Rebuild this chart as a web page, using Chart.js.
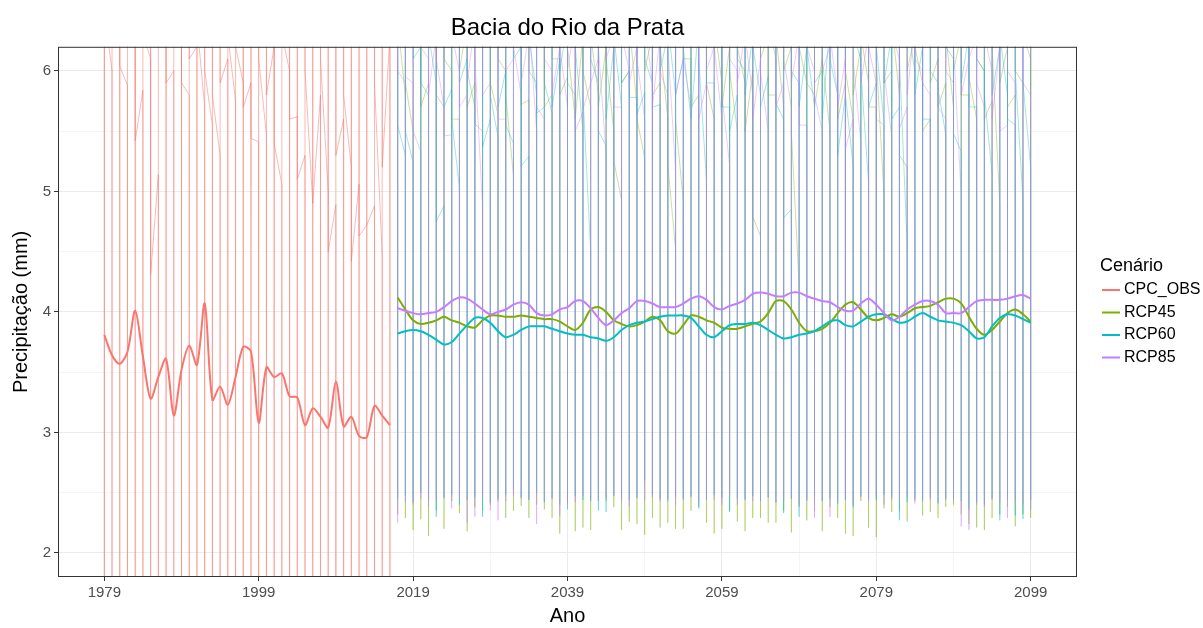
<!DOCTYPE html>
<html>
<head>
<meta charset="utf-8">
<script src="https://cdn.jsdelivr.net/npm/chart.js@4.4.0/dist/chart.umd.min.js"></script>
<style>
  html, body { margin: 0; background: #fff; }
  #chart { display: block; }
</style>
</head>
<body>
<canvas id="chart" width="1203" height="628"></canvas>
<script>
const cpcStart = 1979;
const rcpStart = 2017;

const seriesNames = ['CPC_OBS', 'RCP45', 'RCP60', 'RCP85'];
const seriesColors = ['#F8766D', '#7CAE00', '#00BFC4', '#C77CFF'];
const thinColors = ['rgba(248,118,109,0.5)', 'rgba(124,174,0,0.38)', 'rgba(0,191,196,0.38)', 'rgba(199,124,255,0.38)'];

const xMajorTicks = [1979, 1999, 2019, 2039, 2059, 2079, 2099];
const xMinorTicks = [1989, 2009, 2029, 2049, 2069, 2089];
const yMajorTicks = [2, 3, 4, 5, 6];
const yMinorTicks = [2.5, 3.5, 4.5, 5.5];

// annual means (thick lines)
const cpcAnnual = [3.81, 3.64, 3.57, 3.67, 4.01, 3.63, 3.28, 3.46, 3.61, 3.14, 3.52, 3.72, 3.56, 4.07, 3.27, 3.38, 3.23, 3.46, 3.71, 3.67,
  3.08, 3.54, 3.46, 3.49, 3.30, 3.29, 3.06, 3.20, 3.13, 3.04, 3.42, 3.05, 3.13, 2.97, 2.96, 3.22, 3.14, 3.06];
const rcp45Annual = [4.12, 4.02, 3.93, 3.90, 3.91, 3.93, 3.96, 3.93, 3.91, 3.88, 3.87, 3.93, 3.97, 3.97, 3.96, 3.96, 3.97, 3.96, 3.95, 3.94,
  3.94, 3.92, 3.88, 3.85, 3.91, 4.02, 4.04, 4.00, 3.93, 3.90, 3.88, 3.89, 3.92, 3.96, 3.93, 3.84, 3.82, 3.89, 3.97, 3.96,
  3.93, 3.91, 3.87, 3.86, 3.86, 3.88, 3.90, 3.92, 3.99, 4.09, 4.09, 4.02, 3.91, 3.84, 3.84, 3.86, 3.91, 3.99, 4.06, 4.08,
  4.02, 3.95, 3.93, 3.95, 3.98, 3.96, 3.99, 4.03, 4.04, 4.05, 4.08, 4.11, 4.11, 4.07, 3.96, 3.86, 3.81, 3.85, 3.92, 3.99,
  4.02, 3.98, 3.92];
const rcp60Annual = [3.82, 3.84, 3.85, 3.84, 3.81, 3.77, 3.73, 3.75, 3.82, 3.89, 3.95, 3.95, 3.91, 3.84, 3.79, 3.81, 3.85, 3.88, 3.88, 3.88,
  3.86, 3.84, 3.82, 3.81, 3.81, 3.79, 3.78, 3.76, 3.79, 3.85, 3.89, 3.91, 3.92, 3.94, 3.96, 3.97, 3.97, 3.97, 3.95, 3.88,
  3.81, 3.79, 3.84, 3.89, 3.90, 3.90, 3.91, 3.89, 3.85, 3.81, 3.78, 3.79, 3.81, 3.82, 3.84, 3.88, 3.92, 3.93, 3.89, 3.88,
  3.92, 3.96, 3.98, 3.98, 3.94, 3.91, 3.92, 3.96, 3.99, 3.96, 3.93, 3.92, 3.91, 3.89, 3.84, 3.78, 3.79, 3.88, 3.95, 3.98,
  3.97, 3.94, 3.91];
const rcp85Annual = [4.03, 4.01, 3.99, 3.98, 3.99, 4.00, 4.04, 4.09, 4.12, 4.11, 4.07, 4.02, 3.98, 4.00, 4.02, 4.06, 4.08, 4.06, 3.99, 3.97,
  3.98, 4.02, 4.04, 4.09, 4.09, 4.03, 3.95, 3.89, 3.93, 3.99, 4.03, 4.09, 4.09, 4.07, 4.04, 4.04, 4.04, 4.07, 4.11, 4.13,
  4.10, 4.04, 4.02, 4.05, 4.07, 4.10, 4.15, 4.16, 4.15, 4.13, 4.13, 4.16, 4.16, 4.13, 4.11, 4.09, 4.08, 4.04, 4.01, 4.01,
  4.07, 4.11, 4.06, 3.99, 3.93, 3.96, 4.02, 4.06, 4.09, 4.09, 4.06, 3.99, 3.99, 3.99, 4.04, 4.09, 4.10, 4.10, 4.10, 4.11,
  4.13, 4.14, 4.11];

// monthly values per year (thin lines): first month, wettest, driest, last month
const cpcJan = [6.6, 6.0, 6.4, 5.88, 6.3, 5.84, 6.1, 5.14, 6.5, 6.0, 6.3, 5.8, 6.2, 5.7, 5.55, 5.3, 6.1, 5.75, 5.9, 5.9,
  5.41, 5.47, 6.2, 5.06, 6.0, 5.62, 5.3, 4.9, 5.8, 5.0, 4.89, 5.6, 5.2, 5.06, 4.72, 4.88, 4.46, 6.3];
const cpcPeak = [8.1, 7.6, 7.9, 7.4, 8.3, 7.7, 7.2, 7.9, 8.0, 7.5, 7.8, 8.4, 7.6, 8.9, 7.3, 7.5, 7.4, 7.7, 8.2, 7.9,
  7.1, 7.6, 7.4, 7.8, 7.2, 7.5, 7.0, 7.3, 7.6, 7.1, 7.9, 7.2, 7.4, 6.9, 7.0, 7.6, 7.3, 7.1];
const cpcLow = [1.2, 1.0, 1.3, 1.1, 1.4, 0.9, 1.0, 1.2, 1.3, 0.8, 1.1, 1.2, 1.0, 1.5, 1.1, 1.0, 0.9, 1.2, 1.3, 1.1,
  0.9, 1.0, 1.2, 1.1, 0.8, 1.0, 0.9, 1.1, 1.0, 0.8, 1.2, 1.0, 0.9, 1.1, 1.0, 0.9, 1.1, 1.0];
const cpcDec = [6.5, 6.4, 6.04, 6.2, 5.42, 6.3, 4.31, 6.2, 5.9, 6.5, 5.9, 6.1, 6.4, 6.0, 5.8, 5.9, 6.3, 6.2, 5.7, 5.44,
  6.1, 5.8, 5.4, 6.3, 5.6, 5.1, 6.0, 4.9, 6.1, 4.50, 5.3, 5.8, 4.42, 4.63, 4.72, 5.9, 5.2, 6.4];

const rcp45Jan = [6.1, 5.8, 5.5, 6.4, 5.9, 6.3, 5.7, 6.0, 5.6, 6.4, 5.9, 5.50, 6.2, 5.64, 6.0, 5.13, 6.3, 5.76, 5.9, 6.5,
  5.8, 6.1, 5.95, 5.6, 6.3, 5.7, 5.8, 6.2, 5.5, 4.93, 6.0, 5.7, 5.28, 6.3, 5.9, 5.6, 4.52, 4.92, 6.1, 5.8,
  6.4, 5.6, 5.9, 6.2, 5.5, 5.9, 6.0, 4.63, 6.3, 5.8, 5.7, 6.2, 4.22, 5.9, 5.8, 6.1, 5.5, 6.4, 5.9, 5.6,
  6.2, 5.9, 5.7, 4.97, 6.0, 5.8, 5.2, 6.3, 5.9, 5.6, 6.1, 5.9, 5.7, 6.3, 5.8, 5.6, 6.0, 5.75, 4.89, 6.2,
  5.8, 5.9, 6.1];
const rcp45Peak = [7.4, 7.9, 7.1, 8.2, 7.6, 7.3, 7.8, 7.0, 8.4, 7.5, 7.2, 7.7, 8.0, 7.3, 7.6, 7.1, 7.9, 7.4, 8.1, 7.2,
  7.6, 7.8, 7.0, 8.3, 7.5, 7.7, 7.2, 8.0, 7.4, 7.1, 7.9, 7.6, 7.3, 8.2, 7.5, 7.0, 7.8, 7.4, 7.6, 8.1,
  7.2, 7.7, 7.3, 7.9, 7.5, 7.1, 8.0, 7.6, 7.4, 7.8, 7.2, 8.3, 7.5, 7.0, 7.7, 7.9, 7.3, 7.6, 8.1, 7.4,
  7.2, 7.8, 7.5, 7.0, 8.2, 7.6, 7.3, 7.9, 7.4, 7.7, 7.1, 8.0, 7.5, 7.3, 7.8, 7.6, 7.2, 8.1, 7.4, 7.7,
  7.0, 7.9, 7.5];
const rcp45Low = [2.32, 2.29, 2.19, 2.28, 2.14, 2.35, 2.20, 2.43, 2.33, 2.18, 2.38, 2.35, 2.40, 2.43, 2.29, 2.35, 2.39, 2.29, 2.40, 2.36,
  2.29, 2.16, 2.42, 2.18, 2.21, 2.19, 2.43, 2.43, 2.38, 2.19, 2.26, 2.24, 2.15, 2.29, 2.21, 2.25, 2.20, 2.20, 2.35, 2.38,
  2.25, 2.16, 2.20, 2.35, 2.26, 2.18, 2.29, 2.29, 2.25, 2.25, 2.35, 2.17, 2.38, 2.27, 2.35, 2.18, 2.38, 2.29, 2.16, 2.14,
  2.43, 2.21, 2.13, 2.37, 2.34, 2.35, 2.26, 2.43, 2.31, 2.34, 2.29, 2.38, 2.40, 2.32, 2.24, 2.21, 2.19, 2.29, 2.32, 2.38,
  2.22, 2.32, 2.29];
const rcp45Dec = [6.4, 5.9, 6.2, 5.7, 6.3, 5.8, 6.1, 5.6, 6.0, 5.7, 5.56, 6.2, 5.9, 6.1, 5.8, 6.3, 5.72, 6.0, 6.4, 5.7,
  6.1, 5.8, 6.2, 5.6, 6.0, 6.3, 5.7, 6.1, 5.25, 5.9, 6.4, 5.6, 6.0, 5.8, 6.2, 5.22, 5.6, 6.1, 5.7, 6.3,
  5.9, 6.4, 5.7, 6.0, 6.2, 5.5, 4.79, 6.1, 5.8, 6.3, 6.0, 5.5, 6.2, 5.9, 5.7, 6.1, 6.4, 5.6, 6.0, 5.8,
  6.3, 5.7, 6.1, 5.9, 6.4, 5.3, 6.0, 6.2, 5.5, 5.9, 5.7, 6.3, 6.0, 5.8, 5.95, 6.1, 5.6, 6.2, 5.9, 5.7,
  6.0, 6.3, 5.8];

const rcp60Jan = [6.0, 5.3, 5.24, 6.2, 5.8, 5.9, 4.88, 5.85, 5.03, 6.1, 5.7, 6.3, 5.6, 5.45, 6.0, 5.40, 6.2, 5.29, 5.8, 5.7,
  5.65, 6.1, 6.4, 5.8, 5.50, 4.50, 5.9, 5.38, 6.2, 5.7, 6.0, 5.78, 5.82, 5.9, 5.72, 6.3, 5.8, 6.1, 5.6, 6.4,
  5.09, 5.9, 6.2, 5.7, 5.80, 6.0, 6.3, 5.8, 5.95, 6.1, 5.60, 4.85, 5.9, 6.2, 5.7, 6.0, 6.4, 5.8, 5.8, 5.22,
  6.1, 5.07, 5.9, 5.58, 6.3, 5.7, 4.55, 6.0, 6.2, 5.6, 5.9, 5.47, 6.1, 5.33, 6.3, 5.7, 6.0, 5.15, 6.2, 5.8,
  5.55, 4.93, 5.20];
const rcp60Peak = [7.7, 7.2, 8.0, 7.5, 7.1, 7.9, 7.4, 7.6, 8.2, 7.3, 7.0, 7.8, 7.5, 8.1, 7.2, 7.6, 7.4, 7.9, 7.1, 7.7,
  8.3, 7.3, 7.5, 7.0, 7.8, 7.6, 8.0, 7.2, 7.4, 7.9, 7.1, 7.7, 7.5, 7.3, 8.1, 7.6, 7.2, 7.8, 7.0, 7.4,
  7.9, 7.5, 8.2, 7.3, 7.6, 7.1, 7.8, 7.4, 7.7, 8.0, 7.2, 7.5, 7.9, 7.3, 7.6, 7.0, 8.1, 7.4, 7.8, 7.2,
  7.5, 7.9, 7.1, 7.7, 7.3, 8.0, 7.6, 7.2, 7.8, 7.4, 7.5, 8.2, 7.1, 7.7, 7.3, 7.9, 7.6, 7.0, 7.8, 7.4,
  8.1, 7.2, 7.6];
const rcp60Low = [2.45, 2.47, 2.42, 2.50, 2.44, 2.30, 2.46, 2.48, 2.40, 2.44, 2.46, 2.30, 2.42, 2.45, 2.48, 2.52, 2.46, 2.44, 2.50, 2.42,
  2.45, 2.40, 2.36, 2.47, 2.44, 2.43, 2.35, 2.34, 2.47, 2.45, 2.44, 2.46, 2.60, 2.48, 2.45, 2.43, 2.46, 2.45, 2.47, 2.37,
  2.44, 2.48, 2.46, 2.34, 2.45, 2.44, 2.47, 2.43, 2.46, 2.42, 2.33, 2.45, 2.30, 2.44, 2.46, 2.43, 2.45, 2.41, 2.44, 2.38,
  2.47, 2.45, 2.44, 2.48, 2.46, 2.27, 2.42, 2.45, 2.43, 2.46, 2.41, 2.45, 2.44, 2.43, 2.36, 2.42, 2.40, 2.45, 2.27, 2.44,
  2.31, 2.28, 2.44];
const rcp60Dec = [5.55, 5.50, 6.1, 5.9, 6.3, 4.75, 5.7, 5.6, 5.90, 6.0, 6.2, 5.37, 5.8, 5.7, 5.55, 6.1, 5.21, 6.3, 5.65, 5.9,
  5.7, 6.0, 5.90, 6.2, 5.8, 6.1, 5.50, 5.6, 6.3, 5.9, 5.78, 5.64, 6.1, 5.7, 6.0, 6.4, 5.8, 6.2, 5.6, 6.1,
  5.9, 6.3, 5.7, 5.50, 6.1, 5.8, 6.2, 5.70, 6.4, 5.73, 4.78, 6.0, 5.7, 6.2, 5.9, 5.6, 6.1, 5.30, 5.8, 6.3,
  6.0, 5.7, 6.2, 5.9, 5.6, 6.1, 6.4, 5.8, 5.6, 6.0, 5.85, 6.2, 5.48, 5.9, 5.7, 6.1, 5.80, 5.8, 6.3, 5.6,
  6.0, 5.9, 6.2];

const rcp85Jan = [6.2, 5.9, 5.90, 5.33, 6.1, 6.3, 5.7, 5.47, 6.0, 5.8, 6.4, 4.86, 5.9, 6.2, 5.6, 6.1, 5.8, 6.3, 5.5, 5.60,
  6.0, 6.2, 5.7, 6.4, 5.66, 5.9, 6.1, 5.30, 6.3, 5.7, 6.0, 6.2, 5.6, 5.9, 6.3, 5.8, 5.17, 6.1, 5.7, 6.4,
  5.9, 6.2, 5.6, 5.22, 6.0, 6.3, 5.8, 6.1, 5.5, 6.2, 5.9, 5.7, 6.3, 5.55, 6.0, 5.50, 6.2, 5.8, 6.1, 5.6,
  5.40, 6.3, 5.9, 5.55, 5.45, 6.1, 5.7, 6.4, 6.0, 5.8, 6.2, 5.6, 5.9, 4.96, 6.1, 6.3, 5.7, 6.0, 6.2, 5.55,
  5.9, 6.3, 5.8];
const rcp85Peak = [8.0, 7.5, 7.8, 7.2, 8.3, 7.6, 7.1, 7.9, 7.4, 8.1, 7.7, 7.3, 8.2, 7.5, 7.0, 7.8, 7.6, 8.0, 7.2, 7.9,
  7.4, 8.3, 7.6, 7.1, 7.7, 8.0, 7.3, 7.8, 7.5, 8.2, 7.0, 7.6, 7.9, 7.4, 8.1, 7.2, 7.7, 8.0, 7.5, 7.3,
  7.9, 7.6, 8.2, 7.1, 7.8, 7.4, 8.0, 7.7, 7.2, 7.9, 7.5, 8.1, 7.3, 7.6, 7.0, 7.8, 8.2, 7.4, 7.7, 7.5,
  8.0, 7.2, 7.9, 7.6, 7.3, 8.1, 7.5, 7.8, 7.1, 7.7, 8.0, 7.4, 7.6, 7.9, 7.2, 8.2, 7.5, 7.8, 7.3, 7.7,
  8.0, 7.4, 7.9];
const rcp85Low = [2.25, 2.42, 2.40, 2.45, 2.38, 2.44, 2.45, 2.37, 2.45, 2.25, 2.30, 2.44, 2.35, 2.27, 2.43, 2.47, 2.45, 2.44, 2.24, 2.43,
  2.45, 2.31, 2.40, 2.42, 2.47, 2.45, 2.44, 2.46, 2.48, 2.42, 2.38, 2.45, 2.44, 2.46, 2.43, 2.45, 2.40, 2.44, 2.46, 2.42,
  2.45, 2.44, 2.40, 2.46, 2.40, 2.45, 2.43, 2.44, 2.46, 2.42, 2.44, 2.45, 2.40, 2.43, 2.29, 2.44, 2.30, 2.43, 2.45, 2.40,
  2.46, 2.42, 2.47, 2.40, 2.44, 2.43, 2.47, 2.41, 2.45, 2.44, 2.42, 2.44, 2.45, 2.22, 2.19, 2.40, 2.38, 2.44, 2.42, 2.29,
  2.43, 2.40, 2.36];
const rcp85Dec = [6.0, 5.95, 5.50, 6.2, 5.8, 6.1, 5.46, 6.3, 5.7, 5.9, 6.1, 5.8, 6.3, 5.6, 6.0, 6.2, 5.9, 6.4, 5.7, 6.1,
  5.8, 6.2, 6.0, 5.5, 5.68, 5.9, 6.2, 6.1, 5.7, 6.3, 5.9, 6.1, 6.4, 5.7, 6.0, 6.2, 5.8, 6.1, 6.3, 5.6,
  6.0, 6.2, 5.8, 6.1, 5.9, 6.3, 5.6, 6.0, 6.2, 5.7, 6.1, 5.9, 5.55, 6.2, 5.8, 6.0, 6.3, 5.7, 5.35, 6.1,
  5.9, 6.2, 5.6, 6.0, 6.3, 5.52, 5.8, 6.1, 5.9, 6.2, 5.7, 6.0, 6.2, 5.8, 6.1, 5.9, 6.3, 5.6, 5.50, 6.0,
  6.2, 5.9, 6.1];

const fontFamily = '"Liberation Sans", Arial, sans-serif';
Chart.defaults.font.family = fontFamily;

function monthlyPoints(start, jan, peak, low, dec) {
  const pts = [];
  jan.forEach((v, i) => {
    const x = start + i;
    pts.push({ x, y: v }, { x, y: peak[i] }, { x, y: low[i] }, { x, y: dec[i] });
  });
  return pts;
}

function annualPoints(start, values) {
  return values.map((v, i) => ({ x: start + i, y: v }));
}

const thinData = [
  monthlyPoints(cpcStart, cpcJan, cpcPeak, cpcLow, cpcDec),
  monthlyPoints(rcpStart, rcp45Jan, rcp45Peak, rcp45Low, rcp45Dec),
  monthlyPoints(rcpStart, rcp60Jan, rcp60Peak, rcp60Low, rcp60Dec),
  monthlyPoints(rcpStart, rcp85Jan, rcp85Peak, rcp85Low, rcp85Dec)
];
const thickData = [
  annualPoints(cpcStart, cpcAnnual),
  annualPoints(rcpStart, rcp45Annual),
  annualPoints(rcpStart, rcp60Annual),
  annualPoints(rcpStart, rcp85Annual)
];

// higher order is drawn first: thin lines below, RCP85 on top
const datasets = [];
seriesNames.forEach((name, i) => {
  datasets.push({
    label: name + ' mensal',
    data: thinData[i],
    borderColor: thinColors[i],
    borderWidth: 1,
    pointRadius: 0,
    clip: 0,
    order: 7 - i
  });
  datasets.push({
    label: name,
    data: thickData[i],
    borderColor: seriesColors[i],
    borderWidth: 2,
    pointRadius: 0,
    tension: 0.3,
    clip: 0,
    order: 3 - i
  });
});

const isMajor = (list, v) => list.some(t => Math.abs(t - v) < 1e-6);

const panelLegend = {
  id: 'panelLegend',
  afterDraw(chart) {
    const { ctx, chartArea: a } = chart;
    ctx.save();
    ctx.strokeStyle = '#333333';
    ctx.lineWidth = 1;
    ctx.strokeRect(a.left + 0.5, a.top + 0.5, a.right - a.left - 1, a.bottom - a.top - 1);

    ctx.fillStyle = '#000';
    ctx.textBaseline = 'middle';
    ctx.textAlign = 'left';
    ctx.font = '18px ' + fontFamily;
    ctx.fillText('Cenário', 1100, 266);
    ctx.font = '16px ' + fontFamily;
    seriesNames.forEach((name, i) => {
      const y = 290 + i * 22.5;
      ctx.strokeStyle = seriesColors[i];
      ctx.lineWidth = 2;
      ctx.beginPath();
      ctx.moveTo(1102, y);
      ctx.lineTo(1120, y);
      ctx.stroke();
      ctx.fillText(name, 1124, y);
    });
    ctx.restore();
  }
};

new Chart(document.getElementById('chart'), {
  type: 'line',
  data: { datasets },
  options: {
    responsive: false,
    animation: false,
    devicePixelRatio: 1,
    layout: { padding: { left: 0, right: 126, top: 0, bottom: 0 } },
    plugins: {
      legend: { display: false },
      tooltip: { enabled: false },
      title: {
        display: true,
        text: 'Bacia do Rio da Prata',
        fullSize: false,
        color: '#000',
        font: { size: 24, weight: 'normal' },
        padding: { top: 14, bottom: 4 }
      }
    },
    scales: {
      x: {
        type: 'linear',
        min: 1973,
        max: 2105,
        afterFit: s => { s.height = 51; },
        afterBuildTicks: s => {
          s.ticks = xMajorTicks.concat(xMinorTicks).sort((a, b) => a - b).map(v => ({ value: v }));
        },
        ticks: {
          color: '#4d4d4d',
          font: { size: 15 },
          padding: 3,
          maxRotation: 0,
          autoSkip: false,
          callback: v => isMajor(xMajorTicks, v) ? String(v) : ''
        },
        grid: {
          color: c => isMajor(xMajorTicks, c.tick.value) ? '#ebebeb' : '#f5f5f5',
          tickColor: c => isMajor(xMajorTicks, c.tick.value) ? '#333333' : 'rgba(0,0,0,0)',
          tickLength: 4
        },
        border: { display: false },
        title: {
          display: true,
          text: 'Ano',
          color: '#000',
          font: { size: 20 },
          padding: { top: 0, bottom: 0 }
        }
      },
      y: {
        type: 'linear',
        min: 1.8,
        max: 6.2,
        afterFit: s => { s.width = 58; },
        afterBuildTicks: s => {
          s.ticks = yMajorTicks.concat(yMinorTicks).sort((a, b) => a - b).map(v => ({ value: v }));
        },
        ticks: {
          color: '#4d4d4d',
          font: { size: 15 },
          padding: 3,
          autoSkip: false,
          callback: v => isMajor(yMajorTicks, v) ? String(v) : ''
        },
        grid: {
          color: c => isMajor(yMajorTicks, c.tick.value) ? '#ebebeb' : '#f5f5f5',
          tickColor: c => isMajor(yMajorTicks, c.tick.value) ? '#333333' : 'rgba(0,0,0,0)',
          tickLength: 4
        },
        border: { display: false },
        title: {
          display: true,
          text: 'Precipitação (mm)',
          color: '#000',
          font: { size: 20 },
          padding: { top: 9, bottom: 0 }
        }
      }
    }
  },
  plugins: [panelLegend]
});
</script>
</body>
</html>
